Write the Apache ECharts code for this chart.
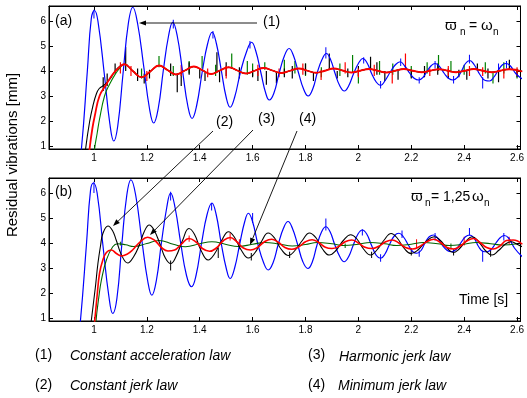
<!DOCTYPE html>
<html>
<head>
<meta charset="utf-8">
<script src="https://cdn.jsdelivr.net/npm/echarts@6/dist/echarts.min.js"></script>
<style>
html,body{margin:0;padding:0;background:#fff;}
#c{width:527px;height:398px;}
</style>
</head>
<body>
<div id="c"></div>
<script>
// ---------- data ----------
// x tick labels: 1, 1.2 ... 2.6 ; y tick labels: 1 ... 6
const xTicks = [1, 1.2, 1.4, 1.6, 1.8, 2, 2.2, 2.4, 2.6];
const yTicks = [1, 2, 3, 4, 5, 6];

// Panel (a) : ϖn = ωn
const blueA = [[0.935,-0.5],[0.953,0.93],[0.975,4.0],[0.99,6.1],[1.002,6.42],[1.015,6.0],[1.04,3.8],[1.06,1.9],[1.075,1.2],[1.09,1.8],[1.11,3.9],[1.13,5.9],[1.147,6.55],[1.165,5.9],[1.188,4.2],[1.21,2.5],[1.226,1.92],[1.243,2.5],[1.262,4.0],[1.282,5.4],[1.298,5.95],[1.315,5.4],[1.335,4.0],[1.355,2.6],[1.371,2.1],[1.388,2.6],[1.41,4.0],[1.43,5.1],[1.447,5.55],[1.463,5.1],[1.482,4.0],[1.5,2.95],[1.515,2.55],[1.532,2.95],[1.555,4.0],[1.578,4.8],[1.596,5.15],[1.612,4.8],[1.632,3.9],[1.65,3.1],[1.663,2.84],[1.68,3.1],[1.7,3.9],[1.72,4.6],[1.738,4.9],[1.755,4.6],[1.773,3.95],[1.792,3.3],[1.81,3.0],[1.828,3.3],[1.845,3.95],[1.862,4.45],[1.879,4.7],[1.895,4.45],[1.912,3.9],[1.93,3.4],[1.947,3.2],[1.963,3.4],[1.982,3.9],[2.0,4.3],[2.017,4.5],[2.034,4.3],[2.05,3.9],[2.068,3.55],[2.084,3.42],[2.1,3.6],[2.12,3.95],[2.14,4.25],[2.158,4.37],[2.175,4.2],[2.195,3.9],[2.212,3.7],[2.228,3.64],[2.245,3.75],[2.26,4.0],[2.276,4.22],[2.29,4.3],[2.305,4.2],[2.325,3.9],[2.342,3.7],[2.358,3.64],[2.375,3.75],[2.39,4.0],[2.405,4.3],[2.421,4.42],[2.438,4.25],[2.46,3.85],[2.48,3.62],[2.496,3.6],[2.512,3.75],[2.53,4.05],[2.545,4.25],[2.559,4.3],[2.575,4.2],[2.595,3.9],[2.62,3.68]];
const blackStartA = [[0.955,-0.5],[0.969,0.93],[0.984,2.0],[0.996,2.6],[1.008,3.05],[1.02,3.3],[1.04,3.45],[1.06,3.67],[1.08,4.0],[1.097,4.18]];
const redStartA = [[0.97,-0.5],[0.984,0.93],[0.994,1.7],[1.003,2.2],[1.021,3.0],[1.047,3.47],[1.071,3.87],[1.096,4.15]];
const greenStartA = [[0.99,-0.5],[1.003,0.93],[1.012,1.5],[1.021,2.07],[1.04,3.0],[1.059,3.47],[1.084,3.93],[1.1,4.15]];
const settledA = [[1.115,4.27],[1.147,4.0],[1.18,3.75],[1.213,3.98],[1.246,4.22],[1.278,4.04],[1.31,3.86],[1.344,4.02],[1.378,4.18],[1.41,4.03],[1.443,3.88],[1.476,4.02],[1.509,4.15],[1.542,4.02],[1.575,3.9],[1.608,4.01],[1.642,4.12],[1.675,4.02],[1.708,3.92],[1.741,4.01],[1.775,4.1],[1.808,4.01],[1.84,3.93],[1.873,4.01],[1.907,4.1],[1.94,4.02],[1.973,3.94],[2.006,4.01],[2.04,4.08],[2.073,4.01],[2.106,3.94],[2.139,4.01],[2.172,4.08],[2.205,4.01],[2.238,3.95],[2.271,4.01],[2.305,4.07],[2.338,4.01],[2.37,3.95],[2.403,4.01],[2.437,4.08],[2.47,4.01],[2.503,3.95],[2.536,4.01],[2.57,4.07],[2.62,3.98]];
// spikes: [t, low, high]
const blueSpikesA = [[1.0,6.1,6.45],[1.3,5.7,6.05],[1.45,5.3,5.6],[1.59,4.9,5.2],[1.877,4.5,4.95],[2.02,4.3,4.55],[2.084,3.3,3.6],[2.16,4.2,4.5],[2.23,3.5,3.75],[2.29,4.1,4.4],[2.36,3.5,3.8],[2.42,4.3,4.65],[2.47,3.3,3.75],[2.53,3.9,4.3],[2.56,4.1,4.4]];
const blackSpikesA = [[1.035,3.2,3.75],[1.05,3.4,3.9],[1.08,3.9,4.3],[1.12,4.0,4.95],[1.165,3.6,4.1],[1.19,3.5,3.9],[1.21,3.7,4.05],[1.29,3.8,4.3],[1.315,3.15,3.9],[1.33,3.4,3.95],[1.36,3.85,4.35],[1.4,3.7,4.1],[1.42,3.6,3.95],[1.465,4.0,4.75],[1.475,3.55,4.0],[1.5,3.8,4.35],[1.55,3.7,4.15],[1.6,3.75,4.05],[1.62,3.6,4.0],[1.652,3.45,4.0],[1.69,3.5,3.95],[1.72,3.75,4.1],[1.75,3.7,4.2],[1.8,3.85,4.3],[1.83,3.6,3.95],[1.89,4.05,4.7],[1.92,3.7,4.0],[1.96,3.75,4.1],[2.0,3.8,4.2],[2.046,4.05,4.57],[2.07,3.85,4.35],[2.1,3.6,4.0],[2.15,3.65,4.0],[2.2,3.7,4.05],[2.25,3.75,4.2],[2.3,3.85,4.3],[2.34,3.7,4.1],[2.38,3.75,4.05],[2.41,3.65,4.0],[2.45,4.0,4.3],[2.49,3.7,4.1],[2.53,3.55,4.0],[2.571,4.05,4.45],[2.6,3.75,4.05]];
const greenSpikesA = [[1.18,3.7,4.1],[1.246,4.15,4.6],[1.3,3.8,4.2],[1.36,3.9,4.4],[1.409,4.1,4.6],[1.46,3.8,4.25],[1.521,4.1,4.7],[1.58,3.85,4.4],[1.6,3.8,4.3],[1.646,4.05,4.35],[1.72,3.85,4.45],[1.76,3.9,4.4],[1.8,3.8,4.3],[1.86,3.75,4.15],[1.93,3.8,4.3],[1.978,3.95,4.64],[2.0,3.5,3.95],[2.08,3.85,4.4],[2.13,3.85,4.3],[2.2,3.75,4.2],[2.26,3.9,4.35],[2.303,4.0,4.64],[2.35,3.95,4.4],[2.4,3.85,4.25],[2.48,3.9,4.35],[2.509,3.5,3.95],[2.55,3.9,4.35],[2.6,3.7,4.1]];
const redSpikesA = [[1.1,3.9,4.35],[1.14,3.8,4.2],[1.2,3.6,4.0],[1.33,3.8,4.25],[1.43,3.75,4.1],[1.5,3.7,4.2],[1.62,3.8,4.25],[1.7,3.75,4.1],[1.79,3.85,4.3],[1.859,3.64,4.05],[1.95,3.9,4.35],[2.0,3.75,4.1],[2.06,3.8,4.25],[2.128,3.5,3.95],[2.178,4.05,4.7],[2.27,3.8,4.1],[2.34,3.8,4.2],[2.42,3.8,4.2],[2.47,3.8,4.15],[2.55,3.7,4.1],[2.6,3.8,4.15]];

// Panel (b) : ϖn = 1,25 ωn
const blueB = [[0.933,-0.5],[0.949,0.9],[0.972,4.0],[0.987,6.1],[0.998,6.4],[1.012,6.0],[1.035,3.8],[1.056,1.9],[1.071,1.18],[1.087,1.8],[1.105,3.9],[1.124,5.9],[1.14,6.53],[1.158,5.9],[1.18,4.2],[1.203,2.5],[1.219,1.91],[1.236,2.5],[1.255,4.0],[1.275,5.4],[1.29,6.0],[1.307,5.4],[1.328,4.0],[1.35,2.7],[1.369,2.25],[1.386,2.7],[1.407,4.0],[1.428,5.15],[1.446,5.6],[1.462,5.15],[1.481,4.0],[1.5,3.0],[1.515,2.58],[1.532,3.0],[1.552,4.0],[1.57,4.85],[1.584,5.19],[1.6,4.85],[1.62,3.95],[1.642,3.2],[1.659,2.92],[1.677,3.2],[1.697,3.95],[1.717,4.6],[1.734,4.86],[1.75,4.6],[1.77,3.95],[1.79,3.25],[1.809,2.98],[1.826,3.25],[1.843,3.9],[1.861,4.45],[1.877,4.65],[1.893,4.45],[1.91,3.95],[1.93,3.45],[1.946,3.25],[1.963,3.45],[1.98,3.9],[1.998,4.35],[2.015,4.52],[2.032,4.35],[2.05,3.9],[2.068,3.5],[2.084,3.39],[2.1,3.55],[2.118,3.95],[2.137,4.3],[2.153,4.39],[2.17,4.25],[2.19,3.9],[2.206,3.65],[2.221,3.59],[2.237,3.7],[2.252,4.0],[2.268,4.25],[2.284,4.32],[2.3,4.2],[2.318,3.9],[2.336,3.7],[2.352,3.65],[2.37,3.75],[2.387,4.0],[2.405,4.25],[2.421,4.32],[2.437,4.2],[2.455,3.85],[2.472,3.66],[2.487,3.65],[2.503,3.75],[2.52,4.0],[2.537,4.22],[2.552,4.3],[2.568,4.2],[2.59,3.8],[2.62,3.45]];
const blackB = [[0.975,-0.5],[0.99,0.9],[1.005,2.2],[1.015,3.18],[1.025,3.9],[1.034,4.39],[1.053,4.68],[1.07,4.5],[1.084,4.12],[1.105,3.5],[1.128,3.2],[1.15,3.45],[1.171,3.9],[1.19,4.45],[1.209,4.72],[1.228,4.5],[1.25,3.95],[1.27,3.4],[1.29,3.18],[1.31,3.45],[1.335,4.1],[1.359,4.58],[1.38,4.35],[1.405,3.7],[1.432,3.32],[1.455,3.55],[1.483,4.1],[1.509,4.45],[1.53,4.25],[1.558,3.7],[1.584,3.4],[1.608,3.6],[1.633,4.05],[1.659,4.4],[1.683,4.2],[1.708,3.75],[1.736,3.5],[1.76,3.7],[1.788,4.1],[1.815,4.4],[1.84,4.2],[1.865,3.75],[1.89,3.52],[1.915,3.7],[1.943,4.1],[1.971,4.33],[1.995,4.15],[2.02,3.75],[2.046,3.52],[2.07,3.72],[2.096,4.1],[2.124,4.38],[2.148,4.18],[2.172,3.8],[2.2,3.58],[2.225,3.72],[2.255,4.05],[2.287,4.25],[2.31,4.1],[2.335,3.8],[2.359,3.62],[2.38,3.75],[2.405,4.05],[2.43,4.25],[2.455,4.05],[2.48,3.7],[2.505,3.52],[2.53,3.7],[2.555,3.95],[2.577,4.05],[2.6,3.95],[2.62,3.85]];
const redB = [[0.99,-0.5],[1.003,0.9],[1.012,1.9],[1.021,2.78],[1.033,3.3],[1.047,3.62],[1.065,3.72],[1.085,3.58],[1.103,3.48],[1.125,3.55],[1.146,3.72],[1.175,4.05],[1.203,4.23],[1.23,4.1],[1.255,3.82],[1.28,3.68],[1.305,3.72],[1.33,3.95],[1.359,4.18],[1.385,4.05],[1.41,3.78],[1.437,3.67],[1.463,3.8],[1.49,4.1],[1.515,4.22],[1.54,4.05],[1.565,3.8],[1.592,3.72],[1.618,3.82],[1.645,4.05],[1.672,4.15],[1.698,4.02],[1.722,3.82],[1.748,3.75],[1.775,3.85],[1.8,4.05],[1.825,4.13],[1.85,4.02],[1.875,3.83],[1.9,3.78],[1.925,3.86],[1.95,4.05],[1.975,4.12],[2.0,4.0],[2.025,3.83],[2.052,3.78],[2.077,3.87],[2.103,4.05],[2.128,4.12],[2.153,4.0],[2.178,3.82],[2.205,3.76],[2.23,3.85],[2.258,4.05],[2.285,4.15],[2.31,4.02],[2.335,3.82],[2.36,3.76],[2.385,3.88],[2.41,4.08],[2.435,4.18],[2.46,4.02],[2.485,3.82],[2.51,3.76],[2.535,3.88],[2.56,4.1],[2.585,4.12],[2.62,3.95]];
const greenB = [[1.0,-0.5],[1.008,0.9],[1.018,1.8],[1.028,2.51],[1.047,3.32],[1.071,3.85],[1.09,3.97],[1.12,3.93],[1.15,3.86],[1.2,3.98],[1.246,4.1],[1.3,3.95],[1.346,3.85],[1.4,3.97],[1.446,4.05],[1.5,3.94],[1.546,3.86],[1.6,3.95],[1.646,4.02],[1.7,3.96],[1.75,3.88],[1.8,3.94],[1.845,4.02],[1.9,3.97],[1.945,3.9],[2.0,3.95],[2.045,4.02],[2.1,3.97],[2.145,3.9],[2.2,3.95],[2.245,4.02],[2.3,3.97],[2.345,3.9],[2.4,3.95],[2.445,4.02],[2.5,3.97],[2.545,3.92],[2.6,3.97]];
const blueSpikesB = [[1.0,6.0,6.45],[1.29,5.7,6.05],[1.445,5.3,5.6],[1.6,4.8,5.2],[1.877,4.5,4.98],[2.015,4.3,4.55],[2.084,3.25,3.55],[2.165,4.2,4.5],[2.23,3.45,3.7],[2.29,4.1,4.4],[2.42,4.3,4.6],[2.47,3.25,3.7],[2.55,4.1,4.4]];
const blackSpikesB = [[1.29,2.9,3.3],[1.47,3.4,3.8],[1.595,3.3,3.6],[1.74,3.4,3.65],[2.05,3.4,3.65],[2.2,3.5,3.8],[2.36,3.5,3.75],[2.5,3.45,3.75]];
const redSpikesB = [[1.36,4.05,4.3],[1.515,4.1,4.4],[1.55,3.85,4.15],[2.22,3.8,4.15],[2.4,3.9,4.25],[2.57,3.95,4.25]];
const greenSpikesB = [[1.1,3.9,4.05],[1.55,3.75,3.95],[1.95,3.8,3.98],[2.35,3.8,3.98]];

// ---------- chart ----------
const FONT = 'Liberation Sans, Arial, Helvetica, sans-serif';
const X_MIN = 0.83, X_MAX = 2.613, Y_MIN = 0.88, Y_MAX = 6.6;
const C = {blue:'#0000ff', black:'#000000', red:'#ff0000', green:'#008000'};

function xAxes(gi){
  return [{
    type:'value', gridIndex:gi, min:X_MIN, max:X_MAX, splitNumber:9, minInterval:0.2, maxInterval:0.2,
    axisLine:{show:true, lineStyle:{color:'#000', width:1}},
    axisTick:{show:true, inside:true, length:4, lineStyle:{color:'#000'}},
    axisLabel:{show:true, fontSize:10, color:'#000', fontFamily:FONT, margin:4, showMinLabel:false, showMaxLabel:false,
      formatter:v => xTicks.indexOf(Math.round(v*10)/10) >= 0 ? String(Math.round(v*10)/10) : ''},
    splitLine:{show:false}
  },{
    type:'value', gridIndex:gi, position:'top', min:X_MIN, max:X_MAX, splitNumber:9, minInterval:0.2, maxInterval:0.2,
    axisLine:{show:true, lineStyle:{color:'#000'}},
    axisTick:{show:true, inside:true, length:4, lineStyle:{color:'#000'}},
    axisLabel:{show:false}, splitLine:{show:false}
  }];
}
function yAxes(gi){
  return [{
    type:'value', gridIndex:gi, min:Y_MIN, max:Y_MAX, splitNumber:6, minInterval:1, maxInterval:1,
    axisLine:{show:true, lineStyle:{color:'#000'}},
    axisTick:{show:true, inside:true, length:4, lineStyle:{color:'#000'}},
    axisLabel:{show:true, fontSize:10, color:'#000', fontFamily:FONT, margin:3, showMinLabel:false, showMaxLabel:false,
      formatter:v => yTicks.indexOf(Math.round(v)) >= 0 && Math.abs(v-Math.round(v))<1e-6 ? String(Math.round(v)) : ''},
    splitLine:{show:false}
  },{
    type:'value', gridIndex:gi, position:'right', min:Y_MIN, max:Y_MAX, splitNumber:6, minInterval:1, maxInterval:1,
    axisLine:{show:true, lineStyle:{color:'#000'}},
    axisTick:{show:true, inside:true, length:4, lineStyle:{color:'#000'}},
    axisLabel:{show:false}, splitLine:{show:false}
  }];
}
function line(data, color, width, gi){
  return {type:'line', xAxisIndex:gi*2, yAxisIndex:gi*2, data:data, smooth:0.45, showSymbol:false, symbol:'none',
    lineStyle:{color:color, width:width}, clip:true, silent:true, animation:false};
}
function spikes(data, color, width, gi){
  return {type:'custom', xAxisIndex:gi*2, yAxisIndex:gi*2, data:data, encode:{x:0, y:[1,2]}, clip:true, silent:true,
    renderItem:(p, api) => {
      const a = api.coord([api.value(0), api.value(1)]);
      const b = api.coord([api.value(0), api.value(2)]);
      return {type:'line', shape:{x1:a[0], y1:a[1], x2:b[0], y2:b[1]}, style:{stroke:color, lineWidth:width}};
    }};
}

function arrow(x1,y1,x2,y2){
  const a = Math.atan2(y2-y1, x2-x1), L = 7, W = 2.6;
  const bx = x2 - L*Math.cos(a), by = y2 - L*Math.sin(a);
  const px = -Math.sin(a)*W, py = Math.cos(a)*W;
  return [
    {type:'line', shape:{x1:x1, y1:y1, x2:bx, y2:by}, style:{stroke:'#000', lineWidth:0.9}, z:100},
    {type:'polygon', shape:{points:[[x2,y2],[bx+px,by+py],[bx-px,by-py]]}, style:{fill:'#000'}, z:100}
  ];
}
function txt(x, y, s, size, opts){
  return Object.assign({type:'text', x:x, y:y, z:100,
    style:Object.assign({text:s, fontSize:size, fontFamily:FONT, fill:'#000', textAlign:'left', textVerticalAlign:'middle'}, (opts||{}).style||{})},
    (opts||{}).el||{});
}

const chart = echarts.init(document.getElementById('c'), null, {renderer:'canvas'});
const option = {
  animation:false,
  backgroundColor:'#fff',
  grid:[
    {left:49, top:6, width:476, height:143, show:true, borderColor:'#000', borderWidth:1, backgroundColor:'transparent'},
    {left:49, top:178, width:476, height:143, show:true, borderColor:'#000', borderWidth:1, backgroundColor:'transparent'}
  ],
  xAxis:[...xAxes(0), ...xAxes(1)],
  yAxis:[...yAxes(0), ...yAxes(1)],
  series:[
    line(blueA, C.blue, 1.2, 0), spikes(blueSpikesA, C.blue, 1, 0),
    line(greenStartA.concat(settledA), C.green, 1.1, 0), spikes(greenSpikesA, C.green, 1.2, 0),
    line(blackStartA.concat(settledA), C.black, 1.1, 0), spikes(blackSpikesA, C.black, 1.2, 0),
    line(redStartA.concat(settledA), C.red, 1.8, 0), spikes(redSpikesA, C.red, 1.2, 0),

    line(blueB, C.blue, 1.2, 1), spikes(blueSpikesB, C.blue, 1, 1),
    line(greenB, '#006400', 1.1, 1), spikes(greenSpikesB, '#006400', 1, 1),
    line(blackB, C.black, 1.1, 1), spikes(blackSpikesB, C.black, 1, 1),
    line(redB, C.red, 1.6, 1), spikes(redSpikesB, C.red, 1, 1)
  ],
  graphic:[
    // y axis title
    txt(13, 155, 'Residual vibrations [mm]', 15, {el:{rotation:Math.PI/2}, style:{textAlign:'center'}}),
    // panel labels
    txt(55, 21, '(a)', 14), txt(55, 192, '(b)', 14),
    // omega annotations
    txt(445, 26, 'ϖ', 15), txt(460, 32, 'n', 10), txt(469, 26, '=', 14), txt(481, 26, 'ω', 15), txt(493, 32, 'n', 10),
    txt(411, 197, 'ϖ', 15), txt(425, 203, 'n', 10), txt(431, 197, '= 1,25', 14), txt(472, 197, 'ω', 15), txt(484, 203, 'n', 10),
    txt(459, 300, 'Time [s]', 14),
    // arrows + labels
    ...arrow(257, 23, 139, 23), txt(263, 22, '(1)', 14),
    ...arrow(213, 131, 113, 226), txt(216, 122, '(2)', 14),
    ...arrow(253, 130, 150, 235), txt(258, 119, '(3)', 14),
    ...arrow(297, 131, 250, 245), txt(299, 119, '(4)', 14),
    // legend
    txt(35, 355, '(1)', 14), txt(70, 356, 'Constant acceleration law', 14, {style:{fontStyle:'italic'}}),
    txt(35, 385, '(2)', 14), txt(70, 386, 'Constant jerk law', 14, {style:{fontStyle:'italic'}}),
    txt(308, 355, '(3)', 14), txt(339, 357, 'Harmonic jerk law', 14, {style:{fontStyle:'italic'}}),
    txt(308, 385, '(4)', 14), txt(338, 386, 'Minimum jerk law', 14, {style:{fontStyle:'italic'}})
  ]
};
chart.setOption(option);
</script>
</body>
</html>
